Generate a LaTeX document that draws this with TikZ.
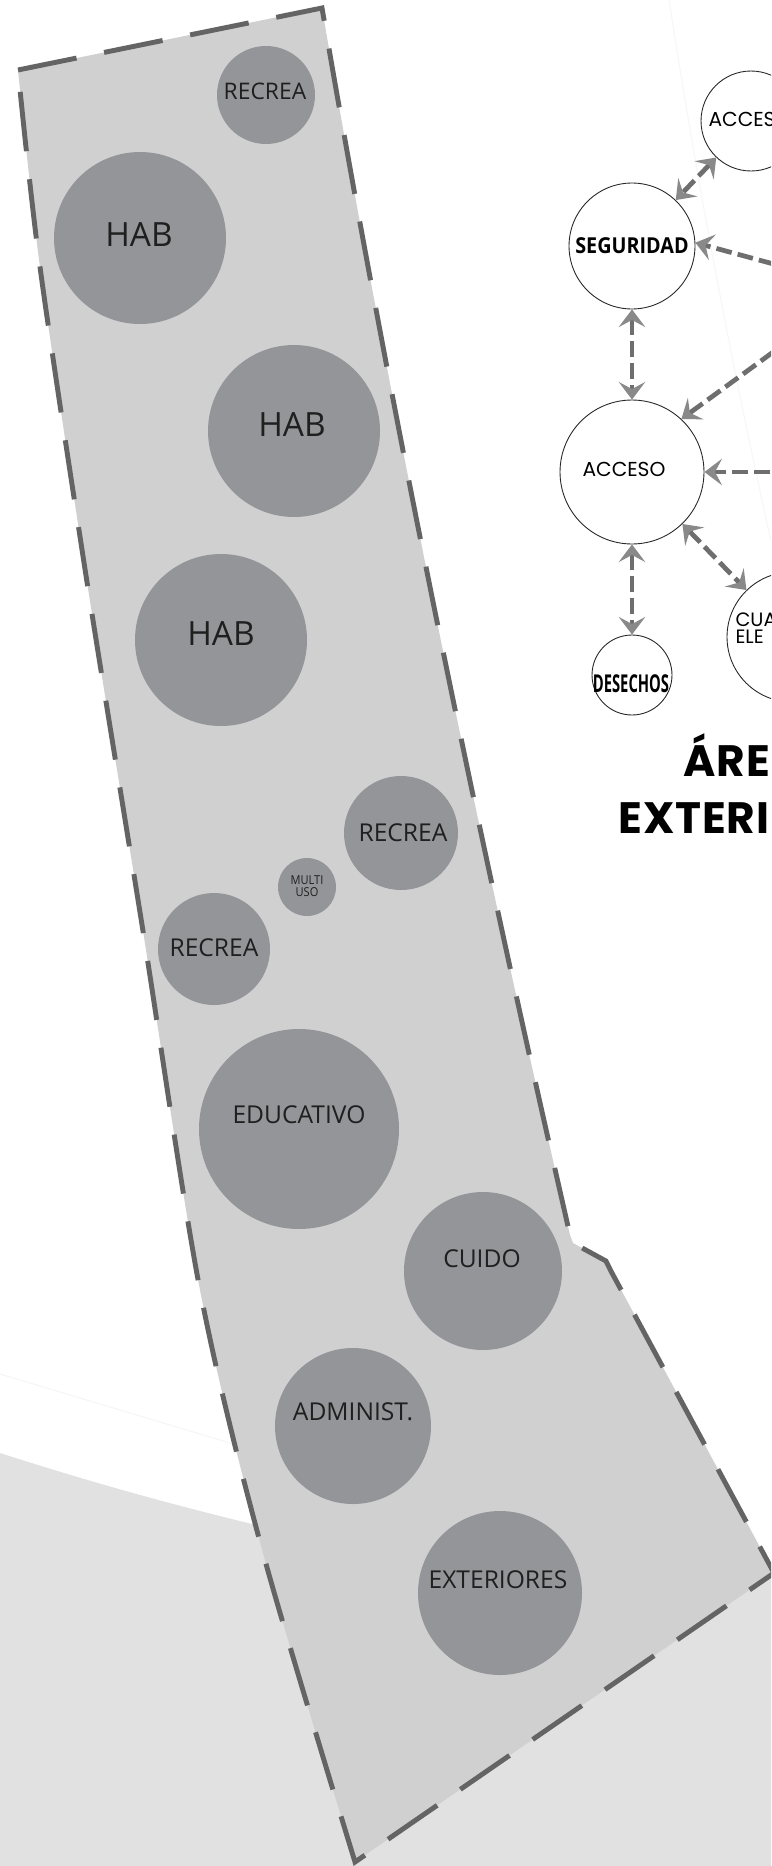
\documentclass[tikz,border=0pt]{standalone}
\usepackage{fontspec}
\setmainfont{Open Sans}
\newfontfamily\geofont{Poppins}
\newfontfamily\titlefont[LetterSpace=2]{Poppins}
\newfontfamily\narrowfont[FakeStretch=0.9]{Open Sans}
\newfontfamily\tallfont[FakeStretch=0.6]{Open Sans}
\usetikzlibrary{arrows.meta}
\definecolor{lotfill}{HTML}{D0D0D0}
\definecolor{lotline}{HTML}{646464}
\definecolor{bubblegray}{HTML}{939598}
\definecolor{groundgray}{HTML}{E1E1E1}
\definecolor{flowgray}{HTML}{6E6E6E}
\definecolor{tipgray}{HTML}{898989}
\tikzset{
  tag/.style={inner sep=0pt, text=black!88, font=\fontsize{14}{14}\selectfont},
  habtag/.style={tag, font=\fontsize{19}{19}\selectfont},
  room/.style={circle, draw=black!85, line width=0.5pt, fill=white, inner sep=0pt},
  roomtag/.style={inner sep=0pt, font=\geofont\fontsize{11.5}{11.5}\selectfont},
  title/.style={inner sep=0pt, font=\titlefont\bfseries\fontsize{25}{25}\selectfont},
  flow/.style={draw=flowgray, line width=2.7pt, dash pattern=on 9pt off 3.5pt,
    >={Stealth[length=10pt, width=15pt, inset=4pt, color=tipgray]}},
}
\begin{document}
\begin{tikzpicture}[x=0.02cm, y=-0.02cm, line width=0.6pt]
  \clip (0,0) rectangle (771,1866);
  \fill[white] (0,0) rectangle (771,1866);
  % terreno vecino
  \fill[groundgray] (0,1453) .. controls (90,1482) and (170,1504) .. (252,1524) -- (771,1572) -- (771,1866) -- (0,1866) -- cycle;
  \draw[gray!7] (0,1374) -- (300,1464);
  \draw[gray!6] (669,0) .. controls (700,200) and (735,380) .. (771,541);
  % lote
  \draw[fill=lotfill, draw=lotline, line width=2.8pt, dash pattern=on 34pt off 16pt]
    (18,70) -- (322,8) .. controls (392,418) and (476,825) .. (570,1235)
    -- (573,1243) -- (606,1261) -- (612,1273) -- (774,1573)
    -- plot[smooth] coordinates {(355,1862) (263,1553) (200,1290) (143,931) (87,582) (40,267) (18,70)} -- cycle;
  % burbujas
  \fill[bubblegray] (266,95) circle[radius=49];
  \fill[bubblegray] (140,238) circle[radius=86];
  \fill[bubblegray] (294,431) circle[radius=86];
  \fill[bubblegray] (221,640) circle[radius=86];
  \fill[bubblegray] (401,833) circle[radius=57];
  \fill[bubblegray] (307,887) circle[radius=29];
  \fill[bubblegray] (214,949) circle[radius=56];
  \fill[bubblegray] (299,1129) circle[radius=100];
  \fill[bubblegray] (483,1271) circle[radius=79];
  \fill[bubblegray] (353,1426) circle[radius=78];
  \fill[bubblegray] (500,1593) circle[radius=82];
  \node[tag, font=\fontsize{13}{13}\selectfont] (recrea1) at (265,91) {RECREA};
  \node[habtag] (hab1) at (139,235) {HAB};
  \node[habtag] (hab2) at (292,425) {HAB};
  \node[habtag] (hab3) at (221,634) {HAB};
  \node[tag] (recrea2) at (403,833) {RECREA};
  \node[tag, align=center, font=\narrowfont\fontsize{7}{7}\selectfont] (multi) at (307,886) {MULTI\\USO};
  \node[tag] (recrea3) at (214,948) {RECREA};
  \node[tag] (educa) at (299,1115) {EDUCATIVO};
  \node[tag] (cuido) at (482,1259) {CUIDO};
  \node[tag] (admin) at (353,1412) {ADMINIST.};
  \node[tag] (exter) at (498,1580) {EXTERIORES};
  % diagrama de relaciones
  \node[room, minimum size=2.0cm] (acctop) at (751,121) {};
  \node[room, minimum size=2.52cm, font=\narrowfont\bfseries\fontsize{12.5}{12.5}\selectfont] (seg) at (632,246) {SEGURIDAD};
  \node[room, minimum size=2.88cm] (acc) at (632,472) {};
  \node[room, minimum size=1.6cm] (des) at (632,675) {};
  \node[room, minimum size=2.6cm] (cua) at (792,637) {};
  \node[roomtag, anchor=base west] (acctopt) at (708,126) {ACCES};
  \node[roomtag] (acct) at (624,469) {ACCESO};
  \node[inner sep=0pt, font=\tallfont\bfseries\fontsize{14}{14}\selectfont] (dest) at (631,684) {DESECHOS};
  \node[roomtag, anchor=north west, align=left, font=\geofont\fontsize{11}{10}\selectfont] (cuat) at (735,612) {CUA\\ELE};
  \coordinate (segR) at (880,293);
  \coordinate (accR1) at (880,274);
  \coordinate (accR2) at (880,472);
  \draw[flow, <->] (acctop) -- (seg);
  \draw[flow, ->] (segR) -- (seg.3);
  \draw[flow, <->] (seg) -- (acc);
  \draw[flow, ->] (accR1) -- (acc.47);
  \draw[flow, ->] (accR2) -- (acc.east);
  \draw[flow, <->] (acc) -- (cua);
  \draw[flow, <->] (acc) -- (des);
  % titulo
  \node[title, anchor=base west] (areat) at (683,776) {ÁRE};
  \node[title, anchor=base west] (exteriort) at (618,833) {EXTERI};
\end{tikzpicture}
\end{document}
